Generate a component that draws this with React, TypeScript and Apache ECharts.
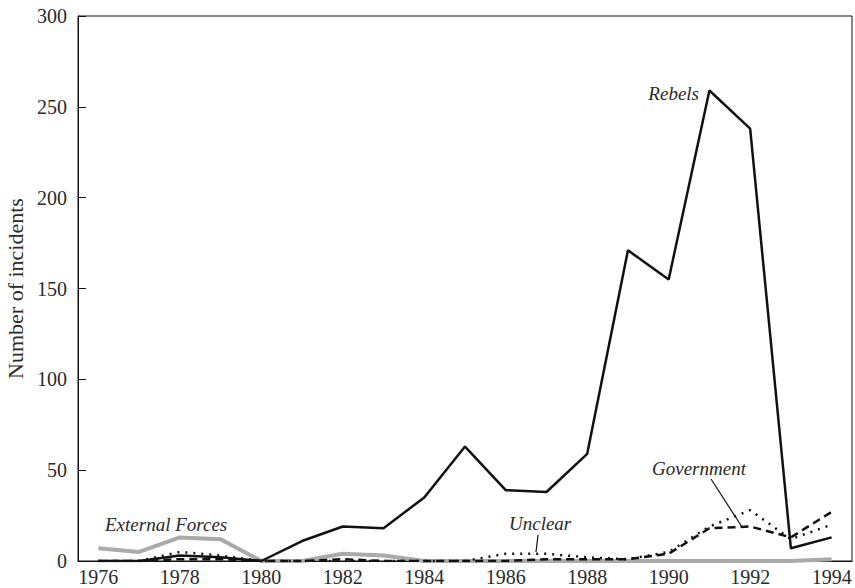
import React, { useEffect, useRef } from "react";
import * as echarts from "echarts";

const years = ["1976","1977","1978","1979","1980","1981","1982","1983","1984","1985","1986","1987","1988","1989","1990","1991","1992","1993","1994"];
const rebels = [0, 0, 3, 2, 0, 11, 19, 18, 35, 63, 39, 38, 59, 171, 155, 259, 238, 7, 13];
const government = [0, 0, 1, 1, 0, 0, 1, 0, 0, 0, 0, 1, 1, 1, 4, 18, 19, 13, 27];
const unclear = [0, 0, 5, 3, 0, 0, 0, 0, 0, 0, 4, 4, 2, 1, 5, 19, 28, 12, 20];
const external = [7, 5, 13, 12, 0, 0, 4, 3, 0, 0, 0, 0, 0, 0, 0, 0, 0, 0, 1];
const yTicks = { min: 0, max: 300, interval: 50 };

const FONT = "Liberation Serif";

export default function App() {
  const ref = useRef<HTMLDivElement>(null);
  useEffect(() => {
    const chart = echarts.init(ref.current!, null, { renderer: "svg" });
    const labelStyle = (text: string, x: number, y: number, align = "left") => ({
      type: "text",
      x,
      y,
      style: {
        text,
        fontFamily: FONT,
        fontStyle: "italic",
        fontSize: 19,
        fill: "#2a2a2a",
        textAlign: align,
        textVerticalAlign: "middle",
      },
    });
    chart.setOption({
      animation: false,
      grid: {
        left: 78, right: 3, top: 16, bottom: 27,
        containLabel: false, outerBoundsMode: "none",
        show: true, borderColor: "#111", borderWidth: 1, backgroundColor: "transparent",
      },
      xAxis: {
        type: "category",
        data: years,
        boundaryGap: true,
        axisLine: { lineStyle: { color: "#111", width: 1 } },
        axisTick: { inside: true, length: 8, alignWithLabel: true, interval: (i: number) => i % 2 === 0, lineStyle: { color: "#111" } },
        axisLabel: { interval: 1, fontFamily: FONT, fontSize: 20, color: "#2a2a2a", margin: 6 },
        splitLine: { show: false },
      },
      yAxis: {
        type: "value",
        min: yTicks.min,
        max: yTicks.max,
        interval: yTicks.interval,
        name: "Number of incidents",
        nameLocation: "middle",
        nameGap: 52,
        nameTextStyle: { fontFamily: FONT, fontSize: 22, color: "#2a2a2a" },
        axisLine: { show: true, lineStyle: { color: "#111", width: 1 } },
        axisTick: { show: true, inside: true, length: 8, lineStyle: { color: "#111" } },
        axisLabel: { fontFamily: FONT, fontSize: 20, color: "#2a2a2a", margin: 11 },
        splitLine: { show: false },
      },
      series: [
        { name: "External Forces", type: "line", data: external, symbol: "none", lineStyle: { color: "#aaaaaa", width: 4 }, z: 1 },
        { name: "Government", type: "line", data: government, symbol: "none", lineStyle: { color: "#111", width: 2.5, type: [8, 5] }, z: 2 },
        { name: "Unclear", type: "line", data: unclear, symbol: "none", lineStyle: { color: "#111", width: 2.5, type: [2, 6] }, z: 3 },
        { name: "Rebels", type: "line", data: rebels, symbol: "none", lineStyle: { color: "#111", width: 2.5 }, z: 4 },
      ],
      graphic: [
        labelStyle("Rebels", 699, 93, "right"),
        labelStyle("External Forces", 105, 524),
        labelStyle("Unclear", 509, 523),
        labelStyle("Government", 652, 468),
        { type: "line", shape: { x1: 538, y1: 535, x2: 536, y2: 552 }, style: { stroke: "#111", lineWidth: 1.2 } },
        { type: "line", shape: { x1: 711, y1: 479, x2: 742, y2: 527 }, style: { stroke: "#111", lineWidth: 1.2 } },
      ],
    });
    return () => chart.dispose();
  }, []);
  return <div ref={ref} style={{ width: 855, height: 588, position: "absolute", left: 0, top: 0 }} />;
}
